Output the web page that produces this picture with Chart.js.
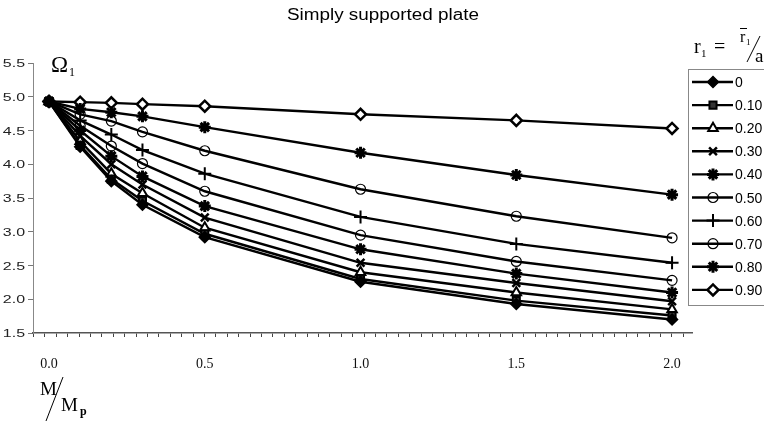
<!DOCTYPE html>
<html>
<head>
<meta charset="utf-8">
<script src="https://cdn.jsdelivr.net/npm/chart.js@4/dist/chart.umd.min.js"></script>
<style>
  html, body { margin: 0; padding: 0; background: #fff; }
  #wrap { width: 764px; height: 424px; position: relative; }
</style>
</head>
<body>
<div id="wrap"><canvas id="chart" width="764" height="424"></canvas></div>
<script>
// M/Mp values (x) and the labels printed under the axis
const xValues = [0, 0.1, 0.2, 0.3, 0.5, 1.0, 1.5, 2.0]
const xTickLabels = ['0.0', '0.5', '1.0', '1.5', '2.0']
const xTickValues = [0, 0.5, 1.0, 1.5, 2.0]
const yTickValues = [1.5, 2.0, 2.5, 3.0, 3.5, 4.0, 4.5, 5.0, 5.5]

// legend: r1 = r1/a
const r1Labels = ['0', '0.10', '0.20', '0.30', '0.40', '0.50', '0.60', '0.70', '0.80', '0.90']

// Omega_1 for each r1
const omega_r000 = [4.93, 4.26, 3.75, 3.40, 2.92, 2.26, 1.93, 1.70]
const omega_r010 = [4.93, 4.28, 3.78, 3.46, 2.97, 2.30, 1.98, 1.76]
const omega_r020 = [4.93, 4.34, 3.86, 3.57, 3.06, 2.40, 2.10, 1.85]
const omega_r030 = [4.93, 4.42, 4.00, 3.70, 3.21, 2.54, 2.24, 1.97]
const omega_r040 = [4.93, 4.50, 4.12, 3.82, 3.38, 2.74, 2.38, 2.10]
const omega_r050 = [4.93, 4.57, 4.27, 4.01, 3.60, 2.95, 2.56, 2.28]
const omega_r060 = [4.93, 4.65, 4.44, 4.21, 3.86, 3.22, 2.82, 2.54]
const omega_r070 = [4.93, 4.74, 4.64, 4.48, 4.20, 3.63, 3.23, 2.91]
const omega_r080 = [4.93, 4.82, 4.77, 4.71, 4.55, 4.17, 3.84, 3.55]
const omega_r090 = [4.93, 4.92, 4.91, 4.89, 4.86, 4.74, 4.65, 4.53]

const seriesValues = [
  omega_r000, omega_r010, omega_r020, omega_r030, omega_r040,
  omega_r050, omega_r060, omega_r070, omega_r080, omega_r090
]

// marker look per series (order follows r1Labels)
const markers = [
  { pointStyle: 'rectRot', radius: 5.5, fill: '#000', width: 1.5 },
  { pointStyle: 'rect', radius: 5, fill: '#333', width: 2 },
  { pointStyle: 'triangle', radius: 5.5, fill: '#fff', width: 2 },
  { pointStyle: 'crossRot', radius: 5.5, fill: '#000', width: 2.5 },
  { pointStyle: 'star', radius: 6, fill: '#000', width: 3 },
  { pointStyle: 'circle', radius: 5, fill: 'rgba(0,0,0,0)', width: 1.2 },
  { pointStyle: 'cross', radius: 6.5, fill: '#000', width: 2 },
  { pointStyle: 'circle', radius: 5, fill: 'rgba(0,0,0,0)', width: 1.2 },
  { pointStyle: 'star', radius: 6, fill: '#000', width: 3 },
  { pointStyle: 'rectRot', radius: 5.5, fill: '#fff', width: 2.5 }
]

const minorStep = 0.0366
const xMin = -0.0514
const xMax = 2.064

const isLabelTick = v => xTickValues.some(t => Math.abs(t - v) < 1e-6)

const datasets = seriesValues.map((vals, i) => ({
  label: r1Labels[i],
  data: vals.map((y, j) => ({ x: xValues[j], y })),
  borderColor: '#000',
  borderWidth: 2.4,
  pointStyle: markers[i].pointStyle,
  pointRadius: markers[i].radius,
  pointBorderWidth: markers[i].width,
  pointBackgroundColor: markers[i].fill,
  pointBorderColor: '#000',
  tension: 0
}))

// text with an optional horizontal stretch, like the scanned original
function text(ctx, str, x, y, font, align = 'left', sx = 1) {
  ctx.save()
  ctx.font = font
  ctx.textAlign = align
  ctx.textBaseline = 'alphabetic'
  ctx.translate(x, y)
  ctx.scale(sx, 1)
  ctx.fillText(str, 0, 0)
  ctx.restore()
}

const decorations = {
  id: 'decorations',
  afterDraw(chart) {
    const ctx = chart.ctx
    const yScale = chart.scales.y
    ctx.save()
    ctx.fillStyle = '#000'
    ctx.strokeStyle = '#000'

    text(ctx, 'Simply supported plate', 383, 20, '16px "Liberation Sans", Arial', 'center', 1.18)

    // y tick labels
    ctx.fillStyle = '#222'
    yTickValues.forEach(v => {
      text(ctx, v.toFixed(1), 25, yScale.getPixelForValue(v) + 4, '11px "Liberation Sans", Arial', 'right', 1.45)
    })
    ctx.fillStyle = '#000'

    // y axis name
    text(ctx, 'Ω', 51, 72, '23px "Liberation Serif", serif')
    text(ctx, '1', 69, 76, '12px "Liberation Serif", serif')

    // x axis name
    text(ctx, 'M', 40, 395, '19px "Liberation Serif", serif')
    text(ctx, 'M', 61, 411, '19px "Liberation Serif", serif')
    text(ctx, 'p', 80, 415, 'bold 12px "Liberation Serif", serif')
    ctx.lineWidth = 1
    ctx.beginPath()
    ctx.moveTo(63, 377)
    ctx.lineTo(46, 421)
    ctx.stroke()

    // r1 = r1 / a
    text(ctx, 'r', 694, 53, '20px "Liberation Serif", serif')
    text(ctx, '1', 701, 57, '11px "Liberation Serif", serif')
    text(ctx, '=', 714, 53, '20px "Liberation Serif", serif')
    text(ctx, 'r', 740, 42, '16px "Liberation Serif", serif')
    text(ctx, '1', 746, 45, '9px "Liberation Serif", serif')
    ctx.beginPath()
    ctx.moveTo(740, 28.5)
    ctx.lineTo(747, 28.5)
    ctx.stroke()
    ctx.beginPath()
    ctx.moveTo(760, 36)
    ctx.lineTo(747, 62)
    ctx.stroke()
    text(ctx, 'a', 755, 62, '19px "Liberation Serif", serif')

    // legend
    ctx.strokeStyle = '#888'
    ctx.lineWidth = 1
    ctx.strokeRect(688.5, 69.5, 90, 236)
    chart.data.datasets.forEach((ds, i) => {
      const y = 82 + i * 23.1
      ctx.strokeStyle = '#000'
      ctx.lineWidth = 2.4
      ctx.beginPath()
      ctx.moveTo(692, y)
      ctx.lineTo(733, y)
      ctx.stroke()
      ctx.fillStyle = markers[i].fill
      ctx.lineWidth = markers[i].width
      Chart.helpers.drawPoint(ctx, {
        pointStyle: markers[i].pointStyle,
        radius: markers[i].radius,
        borderWidth: markers[i].width,
        rotation: 0
      }, 713, y)
      ctx.fillStyle = '#000'
      text(ctx, ds.label, 735, y + 5, '14px "Liberation Sans", Arial')
    })
    ctx.restore()
  }
}

const minorTicks = []
for (let v = -0.05; v <= xMax; v += minorStep) minorTicks.push(+v.toFixed(4))
const allXTicks = minorTicks.concat(xTickValues).sort((a, b) => a - b)

new Chart(document.getElementById('chart'), {
  type: 'line',
  data: { datasets },
  plugins: [decorations],
  options: {
    responsive: false,
    animation: false,
    events: [],
    layout: { padding: { top: 63, right: 72, left: 0, bottom: 0 } },
    plugins: {
      legend: { display: false },
      title: { display: false },
      tooltip: { enabled: false }
    },
    scales: {
      x: {
        type: 'linear',
        min: xMin,
        max: xMax,
        afterBuildTicks: s => { s.ticks = allXTicks.map(value => ({ value })) },
        afterFit: s => { s.height = 91 },
        ticks: {
          autoSkip: false,
          maxRotation: 0,
          padding: 19,
          color: '#111',
          font: { family: '"Liberation Serif", serif', size: 14 },
          callback: v => {
            const k = xTickValues.findIndex(t => Math.abs(t - v) < 1e-6)
            return k >= 0 ? xTickLabels[k] : ''
          }
        },
        grid: {
          drawOnChartArea: false,
          tickLength: 4,
          color: c => (c.tick && isLabelTick(c.tick.value) ? 'rgba(0,0,0,0)' : '#444')
        },
        border: { color: '#555', width: 1.5 }
      },
      y: {
        min: 1.5,
        max: 5.5,
        afterBuildTicks: s => { s.ticks = yTickValues.map(value => ({ value })) },
        afterFit: s => { s.width = 33 },
        ticks: { display: false },
        grid: { drawOnChartArea: false, tickLength: 5, color: '#777' },
        border: { color: '#888', width: 1 }
      }
    }
  }
})
</script>
</body>
</html>
